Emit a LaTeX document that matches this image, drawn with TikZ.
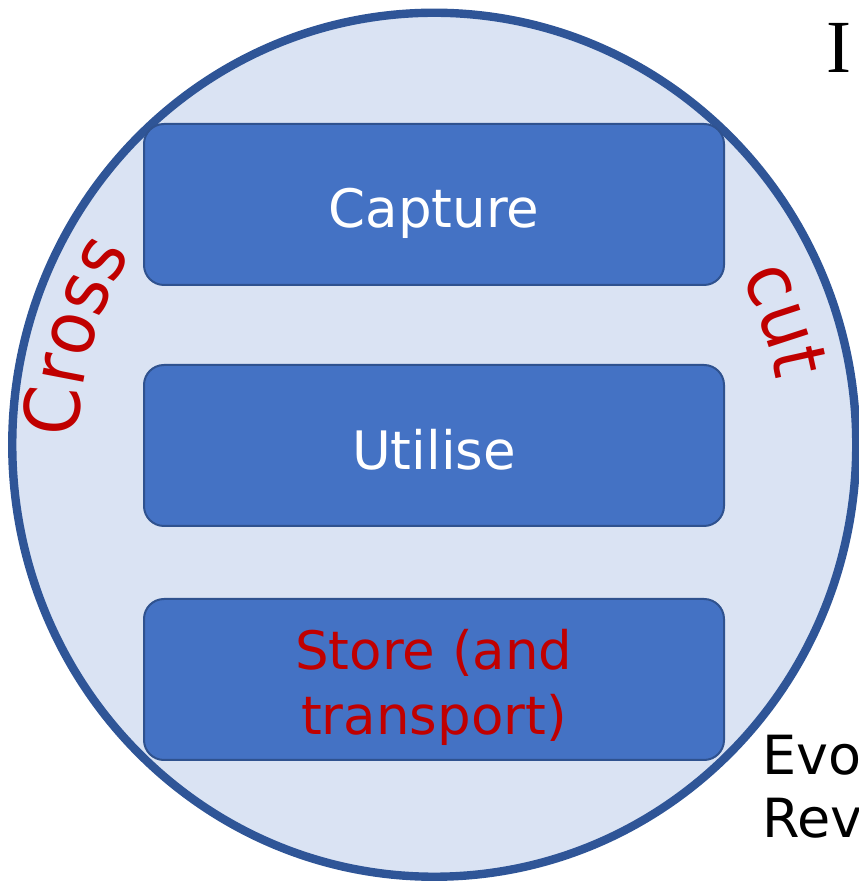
\documentclass[tikz,border=0pt]{standalone}
\usepackage{fontspec}
\setmainfont{DejaVu Sans}
\newfontfamily\serifI{Liberation Serif}
\newfontfamily\arcfam[FakeStretch=0.92]{DejaVu Sans}
\usetikzlibrary{decorations.text}
\definecolor{ringblue}{HTML}{2F5597}
\definecolor{ringfill}{HTML}{DAE3F3}
\definecolor{boxfill}{HTML}{4472C4}
\definecolor{boxline}{HTML}{2F528F}
\definecolor{crossred}{HTML}{C00000}
\newcommand{\arcfont}{\arcfam\fontsize{76pt}{76pt}\selectfont}
\tikzset{
  stagebox/.style={draw=boxline, line width=2pt, fill=boxfill, rounded corners=20pt},
  stagetext/.style={anchor=base, inner sep=0pt, font=\fontsize{53pt}{53pt}\selectfont},
  sidetext/.style={anchor=base west, inner sep=0pt, font=\fontsize{54pt}{54pt}\selectfont, text=black},
}
\begin{document}
\begin{tikzpicture}[x=1pt,y=1pt]
\useasboundingbox (0,0) rectangle (859,881);
% ring
\coordinate (c) at (434.25,436.25);
\draw[ringblue, fill=ringfill, line width=8.4pt] (c) ellipse [x radius=422, y radius=432];
% stage boxes
\path[stagebox] (144,757) rectangle (724,596);
\path[stagebox] (144,516) rectangle (724,355);
\path[stagebox] (144,282) rectangle (724,121);
\node[stagetext, text=white] (capture) at (434,653) {Capture};
\node[stagetext, text=white] (utilise) at (434,411) {Utilise};
\node[stagetext, text=crossred] (store1) at (434,211) {Store (and};
\node[stagetext, text=crossred] (store2) at (434,146) {transport)};
% curved labels
\path[decorate, decoration={text along path, text={|\arcfont|Cross}, text align=center, text color=crossred}]
  (c) ++(206:356 and 364) arc[start angle=206, end angle=121, x radius=356, y radius=364];
\path[decorate, decoration={text along path, text={|\arcfont|cut}, text align=center, text color=crossred}]
  (c) ++(62:348 and 356) arc[start angle=62, end angle=-23, x radius=348, y radius=356];
% clipped side texts
\node[anchor=base, inner sep=0pt, font=\serifI\fontsize{75pt}{75pt}\selectfont] (ititle) at (839,808) {I};
\node[sidetext] (evo) at (762,106) {Evo};
\node[sidetext] (rev) at (762,43) {Rev};
\end{tikzpicture}
\end{document}
